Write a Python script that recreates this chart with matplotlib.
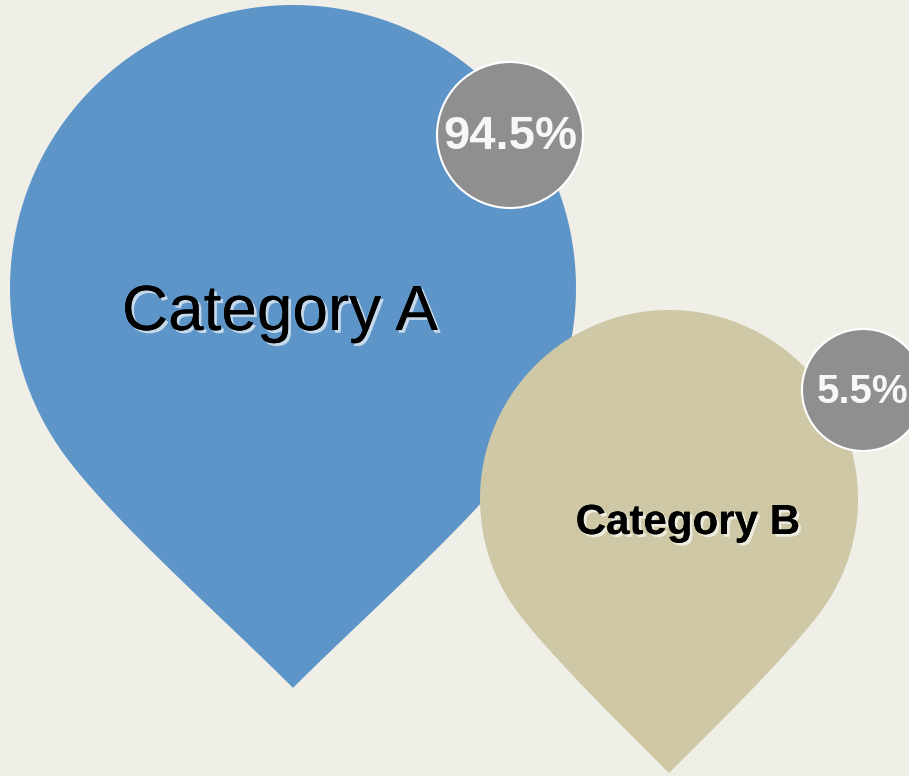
import numpy as np
import matplotlib.pyplot as plt
import matplotlib.patheffects as pe
from matplotlib.patches import Polygon, Circle

categories = ['Category A', 'Category B']
shares = [94.5, 5.5]
pct_labels = [f'{v:.1f}%' for v in shares]

# layout (pixel units, y down)
pin_centers = [(293, 288), (669, 499)]
pin_radii = [283, 189]
tip_ratio = [1.413, 1.45]
pin_colors = ['#5e95c8', '#cec8a6']
badge_centers = [(510, 135), (863, 390)]
badge_radii = [73, 61]
label_pos = [(280, 313), (688, 523)]
label_size = [46, 30.3]
label_weight = ['normal', 'bold']
pct_size = [34, 29]

BG = '#f0efe7'


def pin_outline(cx, cy, r, k, beta_deg=52.6, a=0.3, b=0.35):
    # round head, then cubic curves that meet in a ~90 degree tip
    beta = np.radians(beta_deg)           # arc end, measured from the downward axis
    t = np.linspace(-np.pi / 2 + beta, 3 * np.pi / 2 - beta, 300)
    head = np.column_stack([cx + r * np.cos(t), cy - r * np.sin(t)])

    tip = np.array([cx, cy + k * r])
    u = np.linspace(0, 1, 80)[:, None]

    def side(sign):
        p = np.array([cx + sign * r * np.sin(beta), cy + r * np.cos(beta)])
        c1 = p + a * r * np.array([-sign * np.cos(beta), np.sin(beta)])
        c2 = tip + b * r * np.array([sign * 0.7071, -0.7071])
        return ((1 - u) ** 3 * p + 3 * (1 - u) ** 2 * u * c1
                + 3 * (1 - u) * u ** 2 * c2 + u ** 3 * tip)

    left = side(-1)           # from left arc end to tip
    right = side(1)[::-1]     # from tip to right arc end
    return np.vstack([head, left, right])


fig = plt.figure(figsize=(9.09, 7.76), dpi=100, facecolor=BG)
ax = fig.add_axes([0, 0, 1, 1])
ax.set_xlim(0, 909)
ax.set_ylim(776, 0)
ax.axis('off')

shadow = [pe.withSimplePatchShadow(offset=(2, -2), shadow_rgbFace='white', alpha=0.65),
          pe.Normal()]

for i, cat in enumerate(categories):
    cx, cy = pin_centers[i]
    ax.add_patch(Polygon(pin_outline(cx, cy, pin_radii[i], tip_ratio[i]),
                         closed=True, facecolor=pin_colors[i], edgecolor='none',
                         zorder=2 + 3 * i))
    bx, by = badge_centers[i]
    ax.add_patch(Circle((bx, by), badge_radii[i], facecolor='#8f8f8f',
                        edgecolor='white', linewidth=1.5, zorder=3 + 3 * i))
    ax.text(bx, by + 2, pct_labels[i], ha='center', va='center', color='#f7f7f7',
            fontsize=pct_size[i], fontweight='bold', family='Liberation Sans',
            zorder=4 + 3 * i)
    lx, ly = label_pos[i]
    ax.text(lx, ly, cat, ha='center', va='center', color='black',
            fontsize=label_size[i], fontweight=label_weight[i],
            family='Liberation Sans', zorder=4 + 3 * i, path_effects=shadow)

fig.savefig('out.png', dpi=100, facecolor=BG)
